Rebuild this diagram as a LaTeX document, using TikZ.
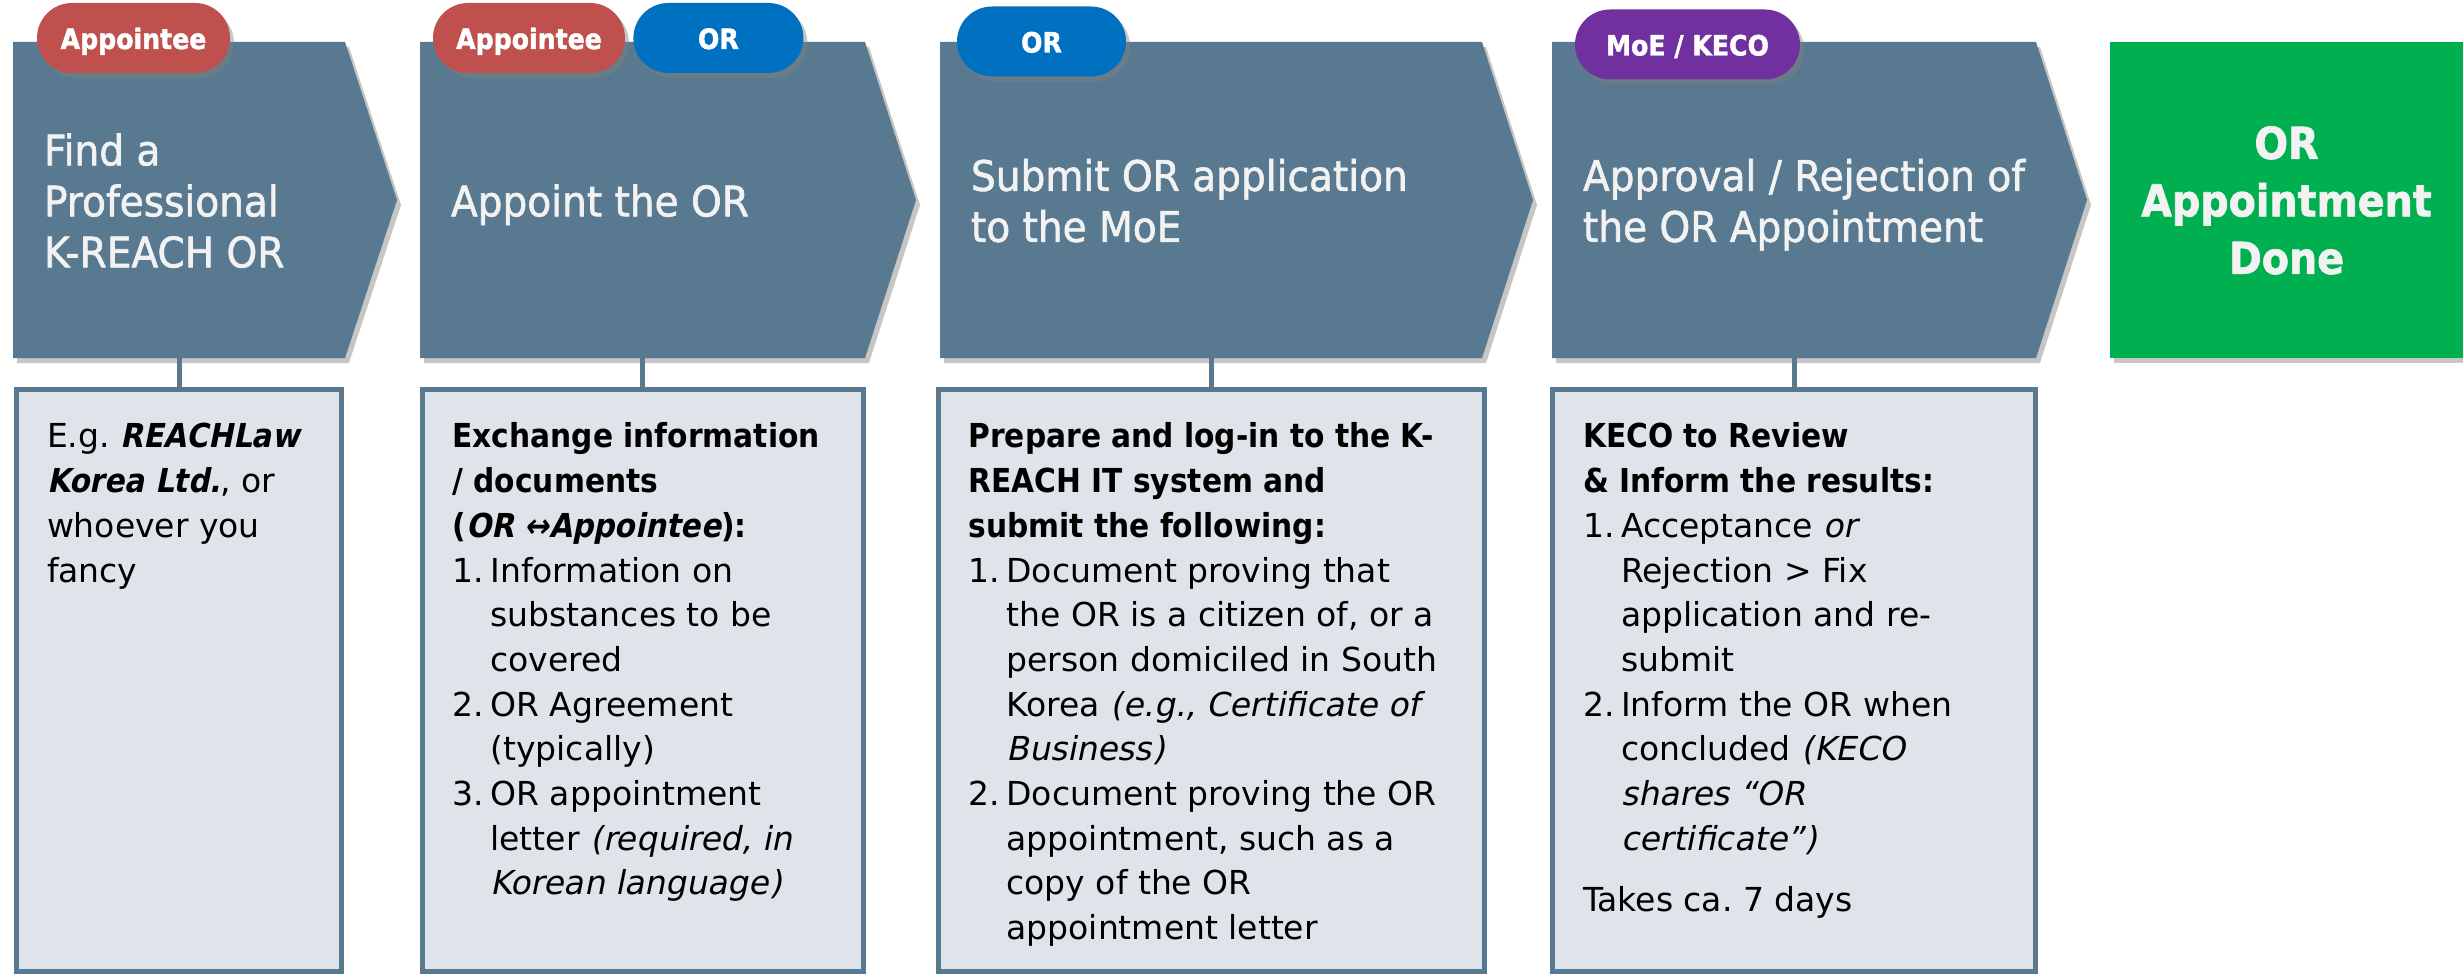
\documentclass[tikz,border=0pt]{standalone}
\usepackage{fontspec}
\setmainfont{DejaVu Sans}[
	ItalicFont={DejaVu Sans}, ItalicFeatures={FakeSlant=0.2},
	BoldFont={DejaVu Sans Bold}, BoldFeatures={FakeStretch=0.9},
	BoldItalicFont={DejaVu Sans Bold}, BoldItalicFeatures={FakeStretch=0.9,FakeSlant=0.2}]
\newfontfamily\headfont{DejaVu Sans}[FakeStretch=0.93, FakeBold=1.5,
	BoldFont={DejaVu Sans Bold}, BoldFeatures={FakeStretch=0.9}]
\usetikzlibrary{calc, positioning, backgrounds, shadows}

\definecolor{slate}{RGB}{88,121,143}
\definecolor{panel}{RGB}{222,228,234}
\definecolor{redpill}{RGB}{192,80,77}
\definecolor{bluepill}{RGB}{0,112,192}
\definecolor{purplepill}{RGB}{112,48,160}
\definecolor{donegreen}{RGB}{0,176,80}
\definecolor{titlewhite}{RGB}{242,242,242}

\newcommand{\steptitle}[2]{\makebox[#1][l]{\begin{tabular}{@{}l@{}}\rule{0pt}{48pt}#2\end{tabular}}}
\newcommand{\donetitle}[1]{\begin{tabular}{@{}c@{}}\rule{0pt}{50pt}#1\end{tabular}}
\newcommand{\infotext}[2]{\parbox[c][527.6pt][t]{#1}{\begin{tabular}[t]{@{}l@{}}#2\end{tabular}}}
\newcommand{\itemno}[1]{\makebox[38pt][l]{#1}}
\newcommand{\cont}{\hspace*{38pt}}

\tikzset{
	softshadow/.style={drop shadow={shadow xshift=4pt, shadow yshift=-5pt, opacity=0.45}},
	chevbody/.style={minimum height=316pt, inner xsep=31pt, inner ysep=0pt, outer sep=0pt,
		text=titlewhite, font=\headfont\fontsize{42}{51}\selectfont},
	chevshape/.style={fill=slate, softshadow},
	donebox/.style={fill=donegreen, softshadow, minimum width=353pt, minimum height=316pt,
		inner sep=0pt, outer sep=0pt, text=titlewhite, font=\headfont\bfseries\fontsize{44}{57.5}\selectfont},
	pill/.style={rounded corners=35pt, minimum height=70pt, inner sep=0pt, text height=24pt, text depth=2pt,
		text=white, font=\headfont\bfseries\fontsize{28}{34}\selectfont, softshadow},
	infobox/.style={draw=slate, line width=5pt, fill=panel, minimum height=582pt,
		inner xsep=30.5pt, inner ysep=27.2pt, font=\fontsize{33}{44.7}\selectfont},
	link/.style={draw=slate, line width=5pt},
}

\begin{document}
\begin{tikzpicture}[x=1pt, y=-1pt]
	\useasboundingbox (0,0) rectangle (2463,976);

	\node (chev1) [chevbody, minimum width=332pt] at (179,200) {\steptitle{270pt}{Find a\\Professional\\K-REACH OR}};
	\node (chev2) [chevbody, minimum width=445pt, right=75pt of chev1] {\steptitle{383pt}{Appoint the OR}};
	\node (chev3) [chevbody, minimum width=542pt, right=75pt of chev2] {\steptitle{480pt}{Submit OR application\\to the MoE}};
	\node (chev4) [chevbody, minimum width=484pt, right=70pt of chev3] {\steptitle{422pt}{Approval / Rejection of\\the OR Appointment}};
	\node (done) [donebox, right=74pt of chev4] {\donetitle{OR\\Appointment\\Done}};

	\begin{scope}[on background layer]
	\path[chevshape] (chev1.north west) -- (chev1.north east) -- ($(chev1.east)+(52,0)$) -- (chev1.south east) -- (chev1.south west) -- cycle;
	\path[chevshape] (chev2.north west) -- (chev2.north east) -- ($(chev2.east)+(51,0)$) -- (chev2.south east) -- (chev2.south west) -- cycle;
	\path[chevshape] (chev3.north west) -- (chev3.north east) -- ($(chev3.east)+(51,0)$) -- (chev3.south east) -- (chev3.south west) -- cycle;
	\path[chevshape] (chev4.north west) -- (chev4.north east) -- ($(chev4.east)+(51,0)$) -- (chev4.south east) -- (chev4.south west) -- cycle;
	\end{scope}

	% who does the step
	\node (who1) [pill, fill=redpill, minimum width=193pt] at (133.5,38) {Appointee};
	\node (who2) [pill, fill=redpill, minimum width=192pt] at (529,38) {Appointee};
	\node (who2or) [pill, fill=bluepill, minimum width=170pt, right=8pt of who2] {OR};
	\node (who3) [pill, fill=bluepill, minimum width=169pt] at (1041.5,41.5) {OR};
	\node (who4) [pill, fill=purplepill, minimum width=225pt] at (1687.5,44.5) {MoE / KECO};

	\node (info1) [infobox, minimum width=325pt, below=29pt of chev1] {\infotext{264pt}{%
		E.g.\ \textbf{\textit{REACHLaw}}\\
		\textbf{\textit{Korea Ltd.}}, or\\
		whoever you\\
		fancy}};
	\node (info2) [infobox, minimum width=441pt, below=29pt of chev2] {\infotext{380pt}{%
		\textbf{Exchange information}\\
		\textbf{/ documents}\\
		\textbf{(\textit{OR ↔Appointee}):}\\
		\itemno{1.}Information on\\
		\cont substances to be\\
		\cont covered\\
		\itemno{2.}OR Agreement\\
		\cont (typically)\\
		\itemno{3.}OR appointment\\
		\cont letter \textit{(required, in}\\
		\cont \textit{Korean language)}}};
	\node (info3) [infobox, minimum width=546pt, below=29pt of chev3] {\infotext{485pt}{%
		\textbf{Prepare and log-in to the K-}\\
		\textbf{REACH IT system and}\\
		\textbf{submit the following:}\\
		\itemno{1.}Document proving that\\
		\cont the OR is a citizen of, or a\\
		\cont person domiciled in South\\
		\cont Korea \textit{(e.g., Certificate of}\\
		\cont \textit{Business)}\\
		\itemno{2.}Document proving the OR\\
		\cont appointment, such as a\\
		\cont copy of the OR\\
		\cont appointment letter}};
	\node (info4) [infobox, minimum width=483pt, below=29pt of chev4] {\infotext{422pt}{%
		\textbf{KECO to Review}\\
		\textbf{\& Inform the results:}\\
		\itemno{1.}Acceptance \textit{or}\\
		\cont Rejection > Fix\\
		\cont application and re-\\
		\cont submit\\
		\itemno{2.}Inform the OR when\\
		\cont concluded \textit{(KECO}\\
		\cont \textit{shares “OR}\\
		\cont \textit{certificate”)}\\[17pt]
		Takes ca.\ 7 days}};

	\draw[link] (chev1.south) -- (info1.north);
	\draw[link] (chev2.south) -- (info2.north);
	\draw[link] (chev3.south) -- (info3.north);
	\draw[link] (chev4.south) -- (info4.north);
\end{tikzpicture}
\end{document}
